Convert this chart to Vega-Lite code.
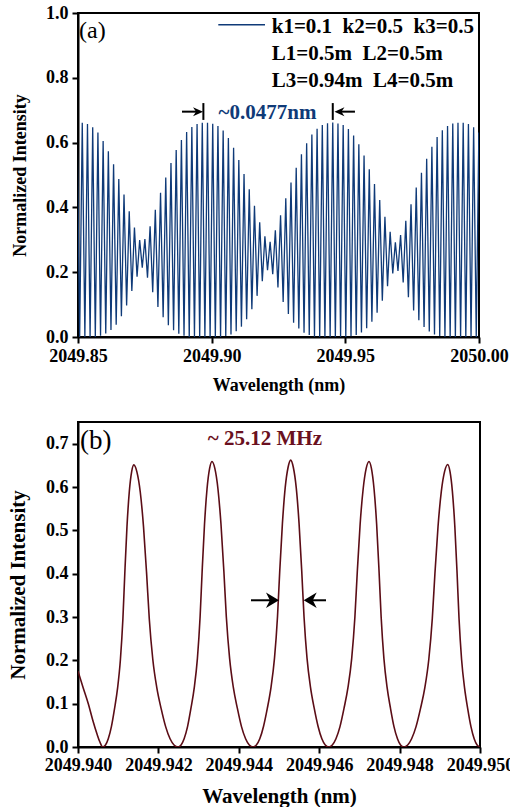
{
"$schema": "https://vega.github.io/schema/vega-lite/v6.json",
"padding": {"left": 6, "top": 3, "right": 0, "bottom": 0},
"spacing": 26,
"config": {
  "font": "Liberation Serif",
  "view": {"stroke": "black", "strokeWidth": 2},
  "axis": {"grid": false, "domainColor": "black", "domainWidth": 2, "tickColor": "black", "tickWidth": 2, "tickSize": 6,
           "labelFont": "Liberation Serif", "labelFontWeight": "bold", "labelFontSize": 18, "labelColor": "black", "labelOverlap": false, "labelFlush": false,
           "titleFont": "Liberation Serif", "titleFontWeight": "bold", "titleColor": "black"}
},
"datasets": {
"a": [
{"wl":2049.849643,"v":0.662},{"wl":2049.850619,"v":0},{"wl":2049.851595,"v":0.661},{"wl":2049.852571,"v":0},
{"wl":2049.853547,"v":0.657},{"wl":2049.854523,"v":0},{"wl":2049.855499,"v":0.647},{"wl":2049.856475,"v":0},
{"wl":2049.857451,"v":0.631},{"wl":2049.858427,"v":0.004},{"wl":2049.859403,"v":0.605},{"wl":2049.860379,"v":0.011},
{"wl":2049.861355,"v":0.573},{"wl":2049.862331,"v":0.022},{"wl":2049.863307,"v":0.533},{"wl":2049.864283,"v":0.038},
{"wl":2049.865259,"v":0.488},{"wl":2049.866235,"v":0.064},{"wl":2049.867211,"v":0.44},{"wl":2049.868187,"v":0.097},
{"wl":2049.869163,"v":0.388},{"wl":2049.870139,"v":0.142},{"wl":2049.871115,"v":0.338},{"wl":2049.872091,"v":0.186},
{"wl":2049.873067,"v":0.299},{"wl":2049.874043,"v":0.214},{"wl":2049.875019,"v":0.302},{"wl":2049.875995,"v":0.183},
{"wl":2049.876971,"v":0.342},{"wl":2049.877947,"v":0.138},{"wl":2049.878923,"v":0.393},{"wl":2049.879899,"v":0.093},
{"wl":2049.880875,"v":0.445},{"wl":2049.881851,"v":0.061},{"wl":2049.882827,"v":0.492},{"wl":2049.883803,"v":0.036},
{"wl":2049.884779,"v":0.537},{"wl":2049.885755,"v":0.021},{"wl":2049.886731,"v":0.577},{"wl":2049.887707,"v":0.01},
{"wl":2049.888683,"v":0.608},{"wl":2049.889659,"v":0.004},{"wl":2049.890635,"v":0.633},{"wl":2049.891611,"v":0},
{"wl":2049.892587,"v":0.648},{"wl":2049.893563,"v":0},{"wl":2049.894539,"v":0.657},{"wl":2049.895515,"v":0},
{"wl":2049.896491,"v":0.661},{"wl":2049.897467,"v":0},{"wl":2049.898443,"v":0.661},{"wl":2049.899419,"v":0},
{"wl":2049.900395,"v":0.658},{"wl":2049.901371,"v":0},{"wl":2049.902347,"v":0.651},{"wl":2049.903323,"v":0},
{"wl":2049.904299,"v":0.637},{"wl":2049.905275,"v":0.003},{"wl":2049.906251,"v":0.614},{"wl":2049.907227,"v":0.008},
{"wl":2049.908203,"v":0.584},{"wl":2049.909179,"v":0.018},{"wl":2049.910155,"v":0.546},{"wl":2049.911131,"v":0.032},
{"wl":2049.912107,"v":0.503},{"wl":2049.913083,"v":0.055},{"wl":2049.914059,"v":0.456},{"wl":2049.915035,"v":0.086},
{"wl":2049.916011,"v":0.405},{"wl":2049.916987,"v":0.127},{"wl":2049.917963,"v":0.354},{"wl":2049.918939,"v":0.172},
{"wl":2049.919915,"v":0.311},{"wl":2049.920891,"v":0.206},{"wl":2049.921867,"v":0.294},{"wl":2049.922843,"v":0.194},
{"wl":2049.923819,"v":0.329},{"wl":2049.924795,"v":0.153},{"wl":2049.925771,"v":0.376},{"wl":2049.926747,"v":0.108},
{"wl":2049.927723,"v":0.428},{"wl":2049.928699,"v":0.071},{"wl":2049.929675,"v":0.477},{"wl":2049.930651,"v":0.044},
{"wl":2049.931627,"v":0.522},{"wl":2049.932603,"v":0.026},{"wl":2049.933579,"v":0.564},{"wl":2049.934555,"v":0.013},
{"wl":2049.935531,"v":0.598},{"wl":2049.936507,"v":0.006},{"wl":2049.937483,"v":0.625},{"wl":2049.938459,"v":0.001},
{"wl":2049.939435,"v":0.643},{"wl":2049.940411,"v":0},{"wl":2049.941387,"v":0.654},{"wl":2049.942363,"v":0},
{"wl":2049.943339,"v":0.66},{"wl":2049.944315,"v":0},{"wl":2049.945291,"v":0.662},{"wl":2049.946267,"v":0},
{"wl":2049.947243,"v":0.659},{"wl":2049.948219,"v":0},{"wl":2049.949195,"v":0.654},{"wl":2049.950171,"v":0},
{"wl":2049.951147,"v":0.642},{"wl":2049.952123,"v":0.002},{"wl":2049.953099,"v":0.622},{"wl":2049.954075,"v":0.006},
{"wl":2049.955051,"v":0.595},{"wl":2049.956027,"v":0.014},{"wl":2049.957003,"v":0.56},{"wl":2049.957979,"v":0.027},
{"wl":2049.958955,"v":0.518},{"wl":2049.959931,"v":0.047},{"wl":2049.960907,"v":0.472},{"wl":2049.961883,"v":0.075},
{"wl":2049.962859,"v":0.423},{"wl":2049.963835,"v":0.112},{"wl":2049.964811,"v":0.371},{"wl":2049.965787,"v":0.157},
{"wl":2049.966763,"v":0.325},{"wl":2049.967739,"v":0.196},{"wl":2049.968715,"v":0.292},{"wl":2049.969691,"v":0.204},
{"wl":2049.970667,"v":0.315},{"wl":2049.971643,"v":0.168},{"wl":2049.972619,"v":0.359},{"wl":2049.973595,"v":0.123},
{"wl":2049.974571,"v":0.41},{"wl":2049.975547,"v":0.082},{"wl":2049.976523,"v":0.461},{"wl":2049.977499,"v":0.052},
{"wl":2049.978475,"v":0.507},{"wl":2049.979451,"v":0.031},{"wl":2049.980427,"v":0.55},{"wl":2049.981403,"v":0.017},
{"wl":2049.982379,"v":0.587},{"wl":2049.983355,"v":0.008},{"wl":2049.984331,"v":0.617},{"wl":2049.985307,"v":0.003},
{"wl":2049.986283,"v":0.638},{"wl":2049.987259,"v":0},{"wl":2049.988235,"v":0.651},{"wl":2049.989211,"v":0},
{"wl":2049.990187,"v":0.659},{"wl":2049.991163,"v":0},{"wl":2049.992139,"v":0.661},{"wl":2049.993115,"v":0},
{"wl":2049.994091,"v":0.661},{"wl":2049.995067,"v":0},{"wl":2049.996043,"v":0.657},{"wl":2049.997019,"v":0},
{"wl":2049.997995,"v":0.647},{"wl":2049.998971,"v":0},{"wl":2049.999947,"v":0.631},{"wl":2050.000923,"v":0}
],
"b": [
{"wl":2049.940000,"v":0.175},{"wl":2049.940124,"v":0.138},{"wl":2049.940256,"v":0.1},{"wl":2049.940373,"v":0.06},
{"wl":2049.940473,"v":0.03},{"wl":2049.940547,"v":0.011},{"wl":2049.940614,"v":0},
{"wl":2049.940684,"v":0.0046},{"wl":2049.940753,"v":0.019},{"wl":2049.940831,"v":0.047},{"wl":2049.940908,"v":0.088},
{"wl":2049.940986,"v":0.137},{"wl":2049.941055,"v":0.202},{"wl":2049.941117,"v":0.296},{"wl":2049.941164,"v":0.4},
{"wl":2049.941218,"v":0.508},{"wl":2049.941276,"v":0.589},{"wl":2049.941334,"v":0.635},{"wl":2049.941388,"v":0.651},
{"wl":2049.941465,"v":0.635},{"wl":2049.941548,"v":0.589},{"wl":2049.941630,"v":0.508},{"wl":2049.941707,"v":0.4},
{"wl":2049.941773,"v":0.296},{"wl":2049.941861,"v":0.202},{"wl":2049.941960,"v":0.137},{"wl":2049.942070,"v":0.088},
{"wl":2049.942180,"v":0.047},{"wl":2049.942290,"v":0.019},{"wl":2049.942389,"v":0.0046},{"wl":2049.942488,"v":0},
{"wl":2049.942564,"v":0.0046},{"wl":2049.942640,"v":0.019},{"wl":2049.942725,"v":0.047},{"wl":2049.942809,"v":0.089},
{"wl":2049.942894,"v":0.138},{"wl":2049.942970,"v":0.204},{"wl":2049.943037,"v":0.3},{"wl":2049.943088,"v":0.405},
{"wl":2049.943147,"v":0.514},{"wl":2049.943210,"v":0.596},{"wl":2049.943274,"v":0.643},{"wl":2049.943333,"v":0.659},
{"wl":2049.943404,"v":0.643},{"wl":2049.943481,"v":0.596},{"wl":2049.943557,"v":0.514},{"wl":2049.943629,"v":0.405},
{"wl":2049.943690,"v":0.3},{"wl":2049.943772,"v":0.204},{"wl":2049.943863,"v":0.138},{"wl":2049.943965,"v":0.089},
{"wl":2049.944067,"v":0.047},{"wl":2049.944169,"v":0.019},{"wl":2049.944261,"v":0.0046},{"wl":2049.944353,"v":0},
{"wl":2049.944437,"v":0.0046},{"wl":2049.944522,"v":0.019},{"wl":2049.944616,"v":0.048},{"wl":2049.944709,"v":0.089},
{"wl":2049.944803,"v":0.139},{"wl":2049.944888,"v":0.205},{"wl":2049.944963,"v":0.301},{"wl":2049.945019,"v":0.407},
{"wl":2049.945085,"v":0.516},{"wl":2049.945155,"v":0.599},{"wl":2049.945225,"v":0.645},{"wl":2049.945291,"v":0.662},
{"wl":2049.945357,"v":0.645},{"wl":2049.945428,"v":0.599},{"wl":2049.945499,"v":0.516},{"wl":2049.945565,"v":0.407},
{"wl":2049.945622,"v":0.301},{"wl":2049.945697,"v":0.205},{"wl":2049.945782,"v":0.139},{"wl":2049.945877,"v":0.089},
{"wl":2049.945971,"v":0.048},{"wl":2049.946066,"v":0.019},{"wl":2049.946151,"v":0.0046},{"wl":2049.946236,"v":0},
{"wl":2049.946326,"v":0.0046},{"wl":2049.946417,"v":0.019},{"wl":2049.946517,"v":0.047},{"wl":2049.946617,"v":0.089},
{"wl":2049.946717,"v":0.138},{"wl":2049.946808,"v":0.204},{"wl":2049.946888,"v":0.3},{"wl":2049.946948,"v":0.405},
{"wl":2049.947018,"v":0.514},{"wl":2049.947094,"v":0.596},{"wl":2049.947169,"v":0.643},{"wl":2049.947239,"v":0.659},
{"wl":2049.947299,"v":0.643},{"wl":2049.947364,"v":0.596},{"wl":2049.947429,"v":0.514},{"wl":2049.947489,"v":0.405},
{"wl":2049.947541,"v":0.3},{"wl":2049.947610,"v":0.204},{"wl":2049.947688,"v":0.138},{"wl":2049.947774,"v":0.089},
{"wl":2049.947860,"v":0.047},{"wl":2049.947947,"v":0.019},{"wl":2049.948024,"v":0.0046},{"wl":2049.948102,"v":0},
{"wl":2049.948201,"v":0.0046},{"wl":2049.948299,"v":0.019},{"wl":2049.948409,"v":0.047},{"wl":2049.948518,"v":0.088},
{"wl":2049.948628,"v":0.137},{"wl":2049.948726,"v":0.202},{"wl":2049.948814,"v":0.297},{"wl":2049.948879,"v":0.401},
{"wl":2049.948956,"v":0.509},{"wl":2049.949038,"v":0.59},{"wl":2049.949120,"v":0.636},{"wl":2049.949197,"v":0.652},
{"wl":2049.949253,"v":0.636},{"wl":2049.949313,"v":0.59},{"wl":2049.949374,"v":0.509},{"wl":2049.949430,"v":0.401},
{"wl":2049.949478,"v":0.297},{"wl":2049.949542,"v":0.202},{"wl":2049.949615,"v":0.137},{"wl":2049.949695,"v":0.088},
{"wl":2049.949775,"v":0.047},{"wl":2049.949855,"v":0.019},{"wl":2049.949928,"v":0.0046},{"wl":2049.950000,"v":0}
]
},
"vconcat": [
{
 "width": 401, "height": 324,
 "layer": [
  {"data": {"name": "a"},
   "mark": {"type": "line", "color": "#0f3a78", "strokeWidth": 1.3, "clip": true},
   "encoding": {
     "x": {"field": "wl", "type": "quantitative", "scale": {"domain": [2049.85, 2050.0], "nice": false, "zero": false},
           "axis": {"values": [2049.85, 2049.9, 2049.95, 2050.0], "format": ".2f", "title": "Wavelength (nm)", "titleFontSize": 18, "labelPadding": 4, "titlePadding": 11}},
     "y": {"field": "v", "type": "quantitative", "scale": {"domain": [0, 1], "nice": false},
           "axis": {"values": [0, 0.2, 0.4, 0.6, 0.8, 1.0], "format": ".1f", "title": "Normalized Intensity", "titleFontSize": 18, "labelPadding": 4, "titlePadding": 16}}}},
  {"data": {"values": [{}]}, "mark": {"type": "rule", "color": "#0f3a78", "strokeWidth": 1.5},
   "encoding": {"x": {"datum": 2049.90248, "type": "quantitative"}, "x2": {"datum": 2049.91995}, "y": {"datum": 0.9635, "type": "quantitative"}}},
  {"data": {"values": [{}]}, "mark": {"type": "text", "text": "k1=0.1\u00a0\u00a0k2=0.5\u00a0\u00a0k3=0.5", "fontSize": 21, "fontWeight": "bold", "align": "left", "baseline": "alphabetic", "color": "black"},
   "encoding": {"x": {"datum": 2049.92246, "type": "quantitative"}, "y": {"datum": 0.938, "type": "quantitative"}}},
  {"data": {"values": [{}]}, "mark": {"type": "text", "text": "L1=0.5m\u00a0\u00a0L2=0.5m", "fontSize": 21, "fontWeight": "bold", "align": "left", "baseline": "alphabetic", "color": "black"},
   "encoding": {"x": {"datum": 2049.92246, "type": "quantitative"}, "y": {"datum": 0.855, "type": "quantitative"}}},
  {"data": {"values": [{}]}, "mark": {"type": "text", "text": "L3=0.94m\u00a0\u00a0L4=0.5m", "fontSize": 21, "fontWeight": "bold", "align": "left", "baseline": "alphabetic", "color": "black"},
   "encoding": {"x": {"datum": 2049.92246, "type": "quantitative"}, "y": {"datum": 0.771, "type": "quantitative"}}},
  {"data": {"values": [{}]}, "mark": {"type": "text", "text": "(a)", "fontSize": 24, "align": "left", "baseline": "alphabetic", "color": "black"},
   "encoding": {"x": {"datum": 2049.8504, "type": "quantitative"}, "y": {"datum": 0.922, "type": "quantitative"}}},
  {"data": {"values": [{}]}, "mark": {"type": "text", "text": "~0.0477nm", "fontSize": 21, "fontWeight": "bold", "align": "center", "baseline": "alphabetic", "color": "#0f3a78"},
   "encoding": {"x": {"datum": 2049.92089, "type": "quantitative"}, "y": {"datum": 0.672, "type": "quantitative"}}},
  {"data": {"values": [{}]}, "mark": {"type": "rule", "color": "black", "strokeWidth": 2},
   "encoding": {"x": {"datum": 2049.8969, "type": "quantitative"}, "y": {"datum": 0.670, "type": "quantitative"}, "y2": {"datum": 0.722}}},
  {"data": {"values": [{}]}, "mark": {"type": "rule", "color": "black", "strokeWidth": 2},
   "encoding": {"x": {"datum": 2049.9453, "type": "quantitative"}, "y": {"datum": 0.670, "type": "quantitative"}, "y2": {"datum": 0.722}}},
  {"data": {"values": [{}]}, "mark": {"type": "rule", "color": "black", "strokeWidth": 2},
   "encoding": {"x": {"datum": 2049.8889, "type": "quantitative"}, "x2": {"datum": 2049.8949}, "y": {"datum": 0.6955, "type": "quantitative"}}},
  {"data": {"values": [{}]}, "mark": {"type": "rule", "color": "black", "strokeWidth": 2},
   "encoding": {"x": {"datum": 2049.9478, "type": "quantitative"}, "x2": {"datum": 2049.9536}, "y": {"datum": 0.6955, "type": "quantitative"}}},
  {"data": {"values": [{}]}, "mark": {"type": "point", "shape": "M -1 -0.9 L 1 0 L -1 0.9 L -0.4 0 Z", "filled": true, "color": "black", "opacity": 1, "size": 100},
   "encoding": {"x": {"datum": 2049.8949, "type": "quantitative"}, "y": {"datum": 0.6955, "type": "quantitative"}}},
  {"data": {"values": [{}]}, "mark": {"type": "point", "shape": "M 1 -0.9 L -1 0 L 1 0.9 L 0.4 0 Z", "filled": true, "color": "black", "opacity": 1, "size": 100},
   "encoding": {"x": {"datum": 2049.9478, "type": "quantitative"}, "y": {"datum": 0.6955, "type": "quantitative"}}}
 ]
},
{
 "width": 402, "height": 325,
 "layer": [
  {"data": {"name": "b"},
   "mark": {"type": "line", "color": "#5b0d16", "strokeWidth": 1.6, "interpolate": "monotone", "clip": true},
   "encoding": {
     "x": {"field": "wl", "type": "quantitative", "scale": {"domain": [2049.94, 2049.95], "nice": false, "zero": false},
           "axis": {"values": [2049.94, 2049.942, 2049.944, 2049.946, 2049.948, 2049.95], "format": ".3f", "title": "Wavelength (nm)", "titleFontSize": 21, "labelPadding": 3, "titlePadding": 11}},
     "y": {"field": "v", "type": "quantitative", "scale": {"domain": [0, 0.75], "nice": false},
           "axis": {"values": [0, 0.1, 0.2, 0.3, 0.4, 0.5, 0.6, 0.7], "format": ".1f", "title": "Normalized Intensity", "titleFontSize": 21, "labelPadding": 4, "titlePadding": 17}}}},
  {"data": {"values": [{}]}, "mark": {"type": "text", "text": "(b)", "fontSize": 27, "align": "left", "baseline": "alphabetic", "color": "black"},
   "encoding": {"x": {"datum": 2049.94005, "type": "quantitative"}, "y": {"datum": 0.688, "type": "quantitative"}}},
  {"data": {"values": [{}]}, "mark": {"type": "text", "text": "~ 25.12 MHz", "fontSize": 21, "fontWeight": "bold", "align": "center", "baseline": "alphabetic", "color": "#6a1020"},
   "encoding": {"x": {"datum": 2049.944649, "type": "quantitative"}, "y": {"datum": 0.696, "type": "quantitative"}}},
  {"data": {"values": [{}]}, "mark": {"type": "rule", "color": "black", "strokeWidth": 2},
   "encoding": {"x": {"datum": 2049.944303, "type": "quantitative"}, "x2": {"datum": 2049.944838}, "y": {"datum": 0.3386, "type": "quantitative"}}},
  {"data": {"values": [{}]}, "mark": {"type": "rule", "color": "black", "strokeWidth": 2},
   "encoding": {"x": {"datum": 2049.945776, "type": "quantitative"}, "x2": {"datum": 2049.946169}, "y": {"datum": 0.3386, "type": "quantitative"}}},
  {"data": {"values": [{}]}, "mark": {"type": "point", "shape": "M -1 -1.2 L 1 0 L -1 1.2 L -0.4 0 Z", "filled": true, "color": "black", "opacity": 1, "size": 169},
   "encoding": {"x": {"datum": 2049.944838, "type": "quantitative"}, "y": {"datum": 0.3386, "type": "quantitative"}}},
  {"data": {"values": [{}]}, "mark": {"type": "point", "shape": "M 1 -1.2 L -1 0 L 1 1.2 L 0.4 0 Z", "filled": true, "color": "black", "opacity": 1, "size": 169},
   "encoding": {"x": {"datum": 2049.945776, "type": "quantitative"}, "y": {"datum": 0.3386, "type": "quantitative"}}}
 ]
}
]
}
